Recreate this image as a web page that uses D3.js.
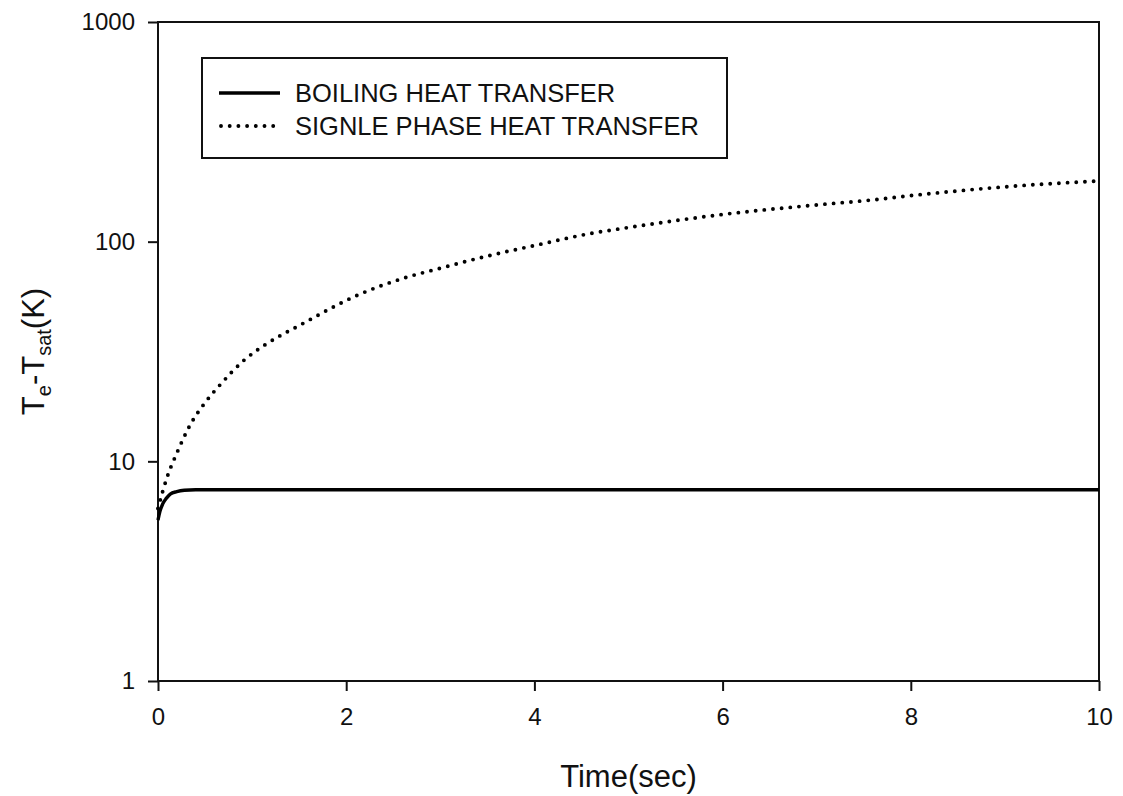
<!DOCTYPE html>
<html>
<head>
<meta charset="utf-8">
<script src="https://cdn.jsdelivr.net/npm/d3@7"></script>
<style>
  html, body { margin: 0; padding: 0; background: #fff; }
  svg { display: block; font-family: "Liberation Sans", Arial, sans-serif; }
</style>
</head>
<body>
<svg id="chart" width="1123" height="796"></svg>
<script>
// ---- data ----
const boilingTime  = [0, 0.02, 0.05, 0.09, 0.13, 0.2, 0.28, 0.4, 1, 2, 4, 6, 8, 10];
const boilingDT    = [5.4, 5.9, 6.4, 6.8, 7.1, 7.28, 7.38, 7.42, 7.42, 7.42, 7.42, 7.42, 7.42, 7.42];

const singleTime   = [0, 0.05, 0.09, 0.2, 0.34, 0.5, 0.66, 0.9, 1.15, 1.5, 2.15, 2.6, 3.0, 3.5, 4.0, 4.6, 5.0, 6.0, 7.0, 7.6, 8.0, 9.1, 10];
const singleDT     = [6.1, 7.3, 8.3, 10.9, 14.6, 18.5, 22.3, 28.5, 34.2, 41.5, 57.8, 68, 75.7, 86, 96, 109, 116, 133, 147, 155, 162, 179, 189];

const xTicks = [0, 2, 4, 6, 8, 10];
const yTicks = [1, 10, 100, 1000];

const legendLabels = ["BOILING HEAT TRANSFER", "SIGNLE PHASE HEAT TRANSFER"];
const xTitle = "Time(sec)";

// ---- layout ----
const svg = d3.select("#chart");
const L = 158, R = 1099, T = 22, B = 681;

const x = d3.scaleLinear().domain([0, 10]).range([L, R]);
const y = d3.scaleLog().domain([1, 1000]).range([B, T]);

// axes
const xAxis = d3.axisBottom(x).tickValues(xTicks).tickSize(10).tickPadding(17).tickFormat(d3.format("d"));
const yAxis = d3.axisLeft(y).tickValues(yTicks).tickSize(10).tickPadding(13).tickFormat(d3.format("d"));

const gx = svg.append("g").attr("transform", `translate(0,${B})`).call(xAxis);
const gy = svg.append("g").attr("transform", `translate(${L},0)`).call(yAxis);

[gx, gy].forEach(g => {
  g.select(".domain").remove();
  g.selectAll(".tick line").attr("stroke", "#111").attr("stroke-width", 2);
  g.selectAll(".tick text").attr("fill", "#111").style("font-size", "24px");
});
gx.selectAll(".tick text").attr("dy", "0.71em");

// frame
svg.append("rect")
  .attr("x", L).attr("y", T).attr("width", R - L).attr("height", B - T)
  .attr("fill", "none").attr("stroke", "#111").attr("stroke-width", 2);

// lines
const line = d3.line().x(d => x(d[0])).y(d => y(d[1])).curve(d3.curveMonotoneX);

svg.append("path")
  .datum(singleTime.map((t, i) => [t, singleDT[i]]))
  .attr("d", line)
  .attr("fill", "none").attr("stroke", "#000")
  .attr("stroke-width", 3.9).attr("stroke-linecap", "round")
  .attr("stroke-dasharray", "0 8.7");

svg.append("path")
  .datum(boilingTime.map((t, i) => [t, boilingDT[i]]))
  .attr("d", line)
  .attr("fill", "none").attr("stroke", "#000")
  .attr("stroke-width", 3.4);

// axis titles
svg.append("text")
  .attr("x", (L + R) / 2).attr("y", 787)
  .attr("text-anchor", "middle").attr("fill", "#111")
  .style("font-size", "31px")
  .text(xTitle);

const yt = svg.append("text")
  .attr("transform", `translate(44,${(T + B) / 2}) rotate(-90)`)
  .attr("text-anchor", "middle").attr("fill", "#111")
  .style("font-size", "31px");
yt.append("tspan").text("T");
yt.append("tspan").attr("dy", 7).style("font-size", "20px").text("e");
yt.append("tspan").attr("dy", -7).text("-T");
yt.append("tspan").attr("dy", 7).style("font-size", "20px").text("sat");
yt.append("tspan").attr("dy", -7).text("(K)");

// legend
const lg = svg.append("g");
lg.append("rect")
  .attr("x", 202).attr("y", 58).attr("width", 525).attr("height", 100)
  .attr("fill", "#fff").attr("stroke", "#111").attr("stroke-width", 2);
const rows = [
  { y: 93, dash: null },
  { y: 126, dash: "0 8.7" }
];
rows.forEach((r, i) => {
  const ln = lg.append("line")
    .attr("x1", 219).attr("x2", 280).attr("y1", r.y).attr("y2", r.y)
    .attr("stroke", "#000").attr("stroke-width", 3.4);
  if (r.dash) ln.attr("stroke-dasharray", r.dash).attr("stroke-linecap", "round").attr("x1", 221).attr("stroke-width", 3.9);
  lg.append("text")
    .attr("x", 295).attr("y", r.y).attr("dy", "0.36em")
    .attr("fill", "#111").style("font-size", "25.5px")
    .text(legendLabels[i]);
});
</script>
</body>
</html>
